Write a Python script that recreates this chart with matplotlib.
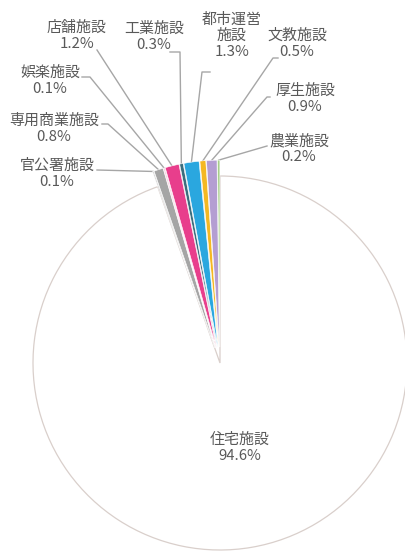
import numpy as np
import matplotlib
matplotlib.use("Agg")
import matplotlib.pyplot as plt

plt.rcParams['font.family'] = ['Noto Sans CJK JP', 'DejaVu Sans']

# データ（時計回り、12時の位置から）
labels = ["住宅施設", "官公署施設", "専用商業施設", "娯楽施設", "店舗施設",
          "工業施設", "都市運営\n施設", "文教施設", "厚生施設", "農業施設"]
shares = [94.6, 0.1, 0.8, 0.1, 1.2, 0.3, 1.3, 0.5, 0.9, 0.2]
colors = ["#ffffff", "#c4c4c4", "#a5a5a5", "#f4b6cf", "#e83e8c",
          "#3b6e7e", "#2aa7df", "#f4b822", "#b49ed2", "#a6cf8a"]

W, H = 405, 551
CX, CY, R = 220, 363, 187


def px(x, y):
    """ピクセル座標 -> データ座標"""
    return (x - CX) / R, (CY - y) / R


# ラベル位置と引き出し線の起点（ピクセル）
label_pos = {
    "官公署施設": (57, 174),
    "専用商業施設": (54, 129),
    "娯楽施設": (50, 81),
    "店舗施設": (77, 36),
    "工業施設": (154, 37),
    "都市運営\n施設": (232, 36),
    "文教施設": (297, 44),
    "厚生施設": (305, 99),
    "農業施設": (299, 149),
}
leader_pts = {
    "官公署施設": [(97, 170)],
    "専用商業施設": [(102, 124), (108, 124)],
    "娯楽施設": [(82, 77), (90, 77)],
    "店舗施設": [(97, 50)],
    "工業施設": [(170, 52), (180, 52)],
    "都市運営\n施設": [(210, 72), (202, 72)],
    "文教施設": [(278, 58), (273, 58)],
    "厚生施設": [(270, 97), (267, 97)],
    "農業施設": [(267, 146)],
}

fig = plt.figure(figsize=(W / 100, H / 100), dpi=100)
ax = fig.add_axes([0, 0, 1, 1])

explode = [0] + [0.085] * (len(shares) - 1)
wedges, _ = ax.pie(shares, colors=colors, explode=explode, startangle=90,
                   counterclock=False, radius=1.0,
                   wedgeprops=dict(edgecolor="#ffffff", linewidth=0.4))
wedges[0].set_edgecolor("#d9cfcb")
wedges[0].set_linewidth(0.9)

x0, y0 = px(0, H)
x1, y1 = px(W, 0)
ax.set_xlim(x0, x1)
ax.set_ylim(y0, y1)
ax.set_aspect("equal")
ax.axis("off")

txt_color = "#595959"
for lab, val, w in zip(labels, shares, wedges):
    text = f"{lab}\n{val}%"
    if lab == "住宅施設":
        tx, ty = px(240, 448)
        ax.text(tx, ty, text, ha="center", va="center", fontsize=10.8,
                color=txt_color, linespacing=1.2)
        continue
    tx, ty = px(*label_pos[lab])
    ax.text(tx, ty, text, ha="center", va="center", fontsize=10.8,
            color=txt_color, linespacing=1.2)
    # 引き出し線: 扇形の外周中点まで
    mid = np.deg2rad((w.theta1 + w.theta2) / 2)
    ex = w.center[0] + w.r * np.cos(mid)
    ey = w.center[1] + w.r * np.sin(mid)
    pts = [px(*p) for p in leader_pts[lab]] + [(ex, ey)]
    xs, ys = zip(*pts)
    ax.plot(xs, ys, color="#a6a6a6", linewidth=1.0, zorder=0)

fig.savefig("out.png", dpi=100, facecolor="white")
